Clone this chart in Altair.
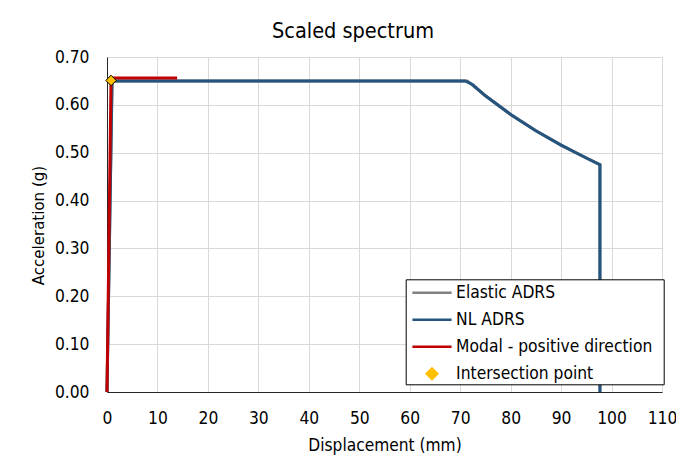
import altair as alt
import pandas as pd

# ---- data ----
series_names = ["Elastic ADRS", "NL ADRS", "Modal - positive direction", "Intersection point"]
series_colors = ["#808080", "#25557f", "#c00000", "#ffc000"]

elastic_x = [0, 1.0, 71.4, 72.5, 75, 80, 85, 90, 95, 97.7, 97.7]
elastic_y = [0, 0.65, 0.65, 0.641, 0.619, 0.58, 0.546, 0.516, 0.489, 0.475, 0.0]

nl_x = [0, 1.0, 71.0, 72.5, 75, 80, 85, 90, 95, 97.7, 97.7]
nl_y = [0, 0.65, 0.65, 0.642, 0.619, 0.58, 0.546, 0.516, 0.489, 0.475, 0.0]

modal_x = [0, 0.8, 13.9]
modal_y = [0, 0.656, 0.656]

inter_x = [0.8]
inter_y = [0.651]

x_ticks = [0, 10, 20, 30, 40, 50, 60, 70, 80, 90, 100, 110]
y_ticks = [0.0, 0.1, 0.2, 0.3, 0.4, 0.5, 0.6, 0.7]

rows = []
for name, xs, ys in [(series_names[0], elastic_x, elastic_y),
                     (series_names[1], nl_x, nl_y),
                     (series_names[2], modal_x, modal_y),
                     (series_names[3], inter_x, inter_y)]:
    for i, (xv, yv) in enumerate(zip(xs, ys)):
        rows.append({"series": name, "idx": i, "x": xv, "y": yv})
df = pd.DataFrame(rows)

FONT = "DejaVu Sans Condensed, DejaVu Sans"

IS_INT = "datum.value === 'Intersection point'"
legend = alt.Legend(
    title=None,
    orient="none",
    legendX=298.7,
    legendY=222.3,
    padding=0,
    strokeColor="#000000",
    fillColor="#ffffff",
    labelFont=FONT,
    labelFontSize=17.3,
    labelColor="#000000",
    labelLimit=0,
    symbolSize=600,
    symbolStrokeWidth=2.5,
    symbolOffset=12.8,
    labelOffset=10.6,
    rowPadding=5,
    labelExpr="datum.label + '\u2800'",
    symbolType={"expr": IS_INT + " ? 'M0,-0.43L0.43,0L0,0.43L-0.43,0Z' : 'M-1.6,0L1.6,0'"},
    symbolFillColor={"expr": IS_INT + " ? '#ffc000' : 'transparent'"},
    symbolStrokeColor={"expr": IS_INT + " ? '#000000' : scale('color', datum.value)"},
    symbolOpacity=1,
)

color = alt.Color(
    "series:N",
    scale=alt.Scale(domain=series_names, range=series_colors),
    legend=legend,
)

x_enc = alt.X(
    "x:Q",
    scale=alt.Scale(domain=[0, 110], nice=False, zero=False),
    axis=alt.Axis(
        values=x_ticks, title="Displacement (mm)", grid=True, gridColor="#d9d9d9",
        gridWidth=1, domainColor="#262626", ticks=False, tickSize=0,
        labelPadding=17, labelFlush=False, labelFont=FONT, labelFontSize=17.3,
        labelColor="#000000", titleFont=FONT, titleFontSize=17.2, titleFontWeight="normal",
        titleColor="#000000", titleBaseline="alphabetic", titleY=58,
    ),
)
y_enc = alt.Y(
    "y:Q",
    scale=alt.Scale(domain=[0, 0.7], nice=False, zero=False),
    axis=alt.Axis(
        values=y_ticks, format=".2f", title="Acceleration (g)", grid=True,
        gridColor="#d9d9d9", gridWidth=1, domainColor="#262626", ticks=False,
        tickSize=0, labelPadding=18, labelFlush=False, labelFont=FONT,
        labelFontSize=17.3, labelColor="#000000", titleFont=FONT, titleFontSize=16.7,
        titleFontWeight="normal", titleColor="#000000", titleBaseline="alphabetic",
        titleX=-64, titleY=168, titleAngle=270,
    ),
)

base = alt.Chart(df)


def line_layer(name):
    return base.transform_filter(alt.datum.series == name).mark_line(
        strokeWidth=3, clip=False
    ).encode(x=x_enc, y=y_enc, color=color, order=alt.Order("idx:Q"))


points = base.transform_filter(alt.datum.series == series_names[3]).mark_point(
    shape="diamond", filled=True, size=110, stroke="#000000", strokeWidth=1, opacity=1
).encode(
    x=x_enc, y=y_enc,
    color=color,
    fill=alt.value("#ffc000"),
)

chart = alt.layer(
    line_layer(series_names[0]),
    line_layer(series_names[1]),
    line_layer(series_names[2]),
    points,
).properties(
    width=555,
    height=335,
    padding={"left": 107, "top": 57, "right": 14, "bottom": 63},
    autosize="none",
    title=alt.TitleParams(
        "Scaled spectrum", font=FONT, fontSize=21.5, fontWeight="normal",
        color="#000000", anchor="middle", baseline="alphabetic", offset=4,
        dx=-31.5, dy=15.5,
    ),
).configure_view(
    stroke="#262626", strokeWidth=1
).configure(background="#ffffff")

chart.save("out.html", embed_options={"renderer": "svg", "actions": False})
